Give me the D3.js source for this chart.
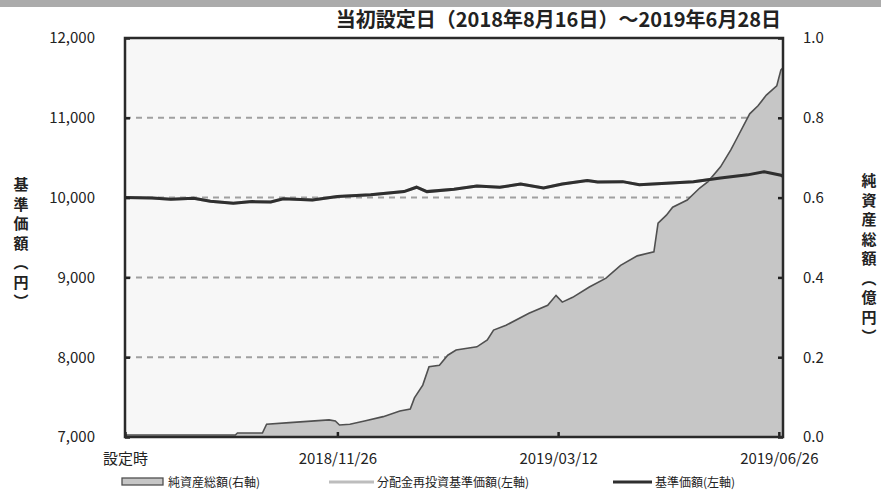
<!DOCTYPE html>
<html>
<head>
<meta charset="utf-8">
<script src="https://cdn.jsdelivr.net/npm/d3@7"></script>
<style>
body { margin: 0; background: #fff; }
text { font-family: "Noto Sans CJK JP", "DejaVu Sans", sans-serif; fill: #222; }
.grid { stroke: #a0a0a0; stroke-width: 2; stroke-dasharray: 6,5; }
</style>
</head>
<body>
<script>
// net assets (億円, right axis)
var assetDates = ["2018-08-16","2018-10-08","2018-10-09","2018-10-21","2018-10-23","2018-11-03","2018-11-22","2018-11-25","2018-11-27","2018-12-02","2018-12-09","2018-12-18","2018-12-26","2018-12-31","2019-01-02","2019-01-06","2019-01-09","2019-01-14","2019-01-18","2019-01-22","2019-02-01","2019-02-06","2019-02-09","2019-02-15","2019-02-26","2019-03-07","2019-03-11","2019-03-14","2019-03-19","2019-03-27","2019-04-04","2019-04-11","2019-04-19","2019-04-27","2019-04-29","2019-05-03","2019-05-06","2019-05-13","2019-05-19","2019-05-23","2019-05-29","2019-06-03","2019-06-06","2019-06-12","2019-06-16","2019-06-20","2019-06-25","2019-06-27","2019-06-28"];
var assetValues = [0.005,0.005,0.01,0.01,0.032,0.036,0.043,0.04,0.03,0.032,0.04,0.051,0.065,0.07,0.098,0.13,0.176,0.18,0.205,0.218,0.226,0.243,0.268,0.28,0.31,0.33,0.355,0.338,0.35,0.376,0.398,0.43,0.454,0.464,0.536,0.556,0.576,0.594,0.624,0.64,0.677,0.72,0.75,0.81,0.83,0.857,0.88,0.92,0.925];

// NAV (円, left axis); reinvested NAV is identical (no distributions)
var navDates = ["2018-08-16","2018-08-29","2018-09-07","2018-09-18","2018-09-26","2018-10-07","2018-10-16","2018-10-25","2018-10-31","2018-11-14","2018-11-26","2018-12-12","2018-12-28","2019-01-03","2019-01-08","2019-01-21","2019-02-01","2019-02-12","2019-02-22","2019-03-05","2019-03-14","2019-03-26","2019-03-31","2019-04-12","2019-04-20","2019-05-03","2019-05-16","2019-05-29","2019-06-11","2019-06-19","2019-06-27","2019-06-28"];
var navValues = [10000,9995,9980,9992,9955,9930,9950,9945,9985,9970,10015,10035,10075,10130,10075,10105,10145,10130,10170,10120,10170,10215,10195,10200,10160,10180,10200,10245,10285,10325,10280,10265];
var reinvValues = navValues.slice();

var leftTicks = [7000, 8000, 9000, 10000, 11000, 12000];
var rightTicks = [0, 0.2, 0.4, 0.6, 0.8, 1.0];
var xTickDates = ["2018-08-16","2018-11-26","2019-03-12","2019-06-26"];
var xTickLabels = ["設定時","2018/11/26","2019/03/12","2019/06/26"];

var titleText = "当初設定日（2018年8月16日）～2019年6月28日";
var leftTitle = ["基","準","価","額","︵","円","︶"];
var rightTitle = ["純","資","産","総","額","︵","億","円","︶"];

var W = 881, H = 495;
var margin = {top: 38, right: 98, bottom: 58, left: 125};
var width = W - margin.left - margin.right,
    height = H - margin.top - margin.bottom;

var parse = d3.timeParse("%Y-%m-%d");

var x = d3.scaleTime()
    .domain([parse("2018-08-16"), parse("2019-06-28")])
    .range([0, width]);
var yL = d3.scaleLinear().domain([7000, 12000]).range([height, 0]);
var yR = d3.scaleLinear().domain([0, 1.0]).range([height, 0]);

var svg = d3.select("body").append("svg")
    .attr("width", W)
    .attr("height", H);

// top band
svg.append("rect").attr("x", 0).attr("y", 0).attr("width", W).attr("height", 7).attr("fill", "#ababab");

svg.append("text")
    .attr("x", 781).attr("y", 27)
    .attr("text-anchor", "end")
    .style("font-size", "20px")
    .style("font-weight", "bold")
    .attr("fill", "#222")
    .text(titleText);

var g = svg.append("g")
    .attr("transform", "translate(" + margin.left + "," + margin.top + ")");

g.append("rect")
    .attr("width", width).attr("height", height)
    .attr("fill", "#f7f7f7");

// dashed grid
g.selectAll(".grid")
    .data(leftTicks.filter(function(d) { return d > 7000 && d < 12000; }))
  .enter().append("line")
    .attr("class", "grid")
    .attr("x1", 0).attr("x2", width)
    .attr("y1", function(d) { return yL(d); })
    .attr("y2", function(d) { return yL(d); });

// net assets area
var assetData = assetDates.map(function(d, i) { return {date: parse(d), v: assetValues[i]}; });
var area = d3.area()
    .x(function(d) { return x(d.date); })
    .y0(height)
    .y1(function(d) { return yR(d.v); });
g.append("path")
    .datum(assetData)
    .attr("d", area)
    .attr("fill", "#c6c6c6");
g.append("path")
    .datum(assetData)
    .attr("d", d3.line().x(function(d) { return x(d.date); }).y(function(d) { return yR(d.v); }))
    .attr("fill", "none")
    .attr("stroke", "#505050")
    .attr("stroke-width", 1.6);

// NAV lines
var navLine = d3.line()
    .x(function(d) { return x(d.date); })
    .y(function(d) { return yL(d.v); });
g.append("path")
    .datum(navDates.map(function(d, i) { return {date: parse(d), v: reinvValues[i]}; }))
    .attr("d", navLine)
    .attr("fill", "none")
    .attr("stroke", "#bdbdbd")
    .attr("stroke-width", 3);
g.append("path")
    .datum(navDates.map(function(d, i) { return {date: parse(d), v: navValues[i]}; }))
    .attr("d", navLine)
    .attr("fill", "none")
    .attr("stroke", "#2f2f2f")
    .attr("stroke-width", 3);

// axes
var axL = g.append("g").call(d3.axisLeft(yL).tickValues(leftTicks).tickSize(-5).tickPadding(30).tickFormat(d3.format(",")));
var axR = g.append("g").attr("transform", "translate(" + width + ",0)")
    .call(d3.axisRight(yR).tickValues(rightTicks).tickSize(-5).tickPadding(20).tickFormat(d3.format(".1f")));
var axB = g.append("g").attr("transform", "translate(0," + height + ")")
    .call(d3.axisBottom(x).tickValues(xTickDates.map(parse)).tickSize(-5).tickPadding(16)
      .tickFormat(function(d, i) { return xTickLabels[i]; }));
[axL, axR, axB].forEach(function(a) {
  a.select(".domain").remove();
  a.selectAll(".tick line").attr("stroke", "#222").attr("stroke-width", 2.5);
  a.selectAll(".tick text").style("font-size", "15px").attr("fill", "#222")
    .style("font-family", "'Noto Sans CJK JP', sans-serif");
});
axL.selectAll(".tick text").attr("x", -30);
axR.selectAll(".tick text").attr("x", 20);

// frame
g.append("rect")
    .attr("width", width).attr("height", height)
    .attr("fill", "none").attr("stroke", "#2a2a2a").attr("stroke-width", 2.5);

// axis titles
svg.selectAll(".ltitle").data(leftTitle).enter().append("text")
    .attr("x", 21).attr("y", function(d, i) { return 190 + i * 19.5; })
    .attr("text-anchor", "middle")
    .style("font-size", "15px").style("font-weight", "bold")
    .text(function(d) { return d; });
svg.selectAll(".rtitle").data(rightTitle).enter().append("text")
    .attr("x", 869).attr("y", function(d, i) { return 186 + i * 19.5; })
    .attr("text-anchor", "middle")
    .style("font-size", "15px").style("font-weight", "bold")
    .text(function(d) { return d; });

// legend
var ly = 482;
svg.append("rect").attr("x", 122).attr("y", ly - 4).attr("width", 41).attr("height", 7)
    .attr("fill", "#c6c6c6").attr("stroke", "#505050").attr("stroke-width", 1.3);
svg.append("text").attr("x", 168).attr("y", ly + 4.5).style("font-size", "12px").text("純資産総額(右軸)");
svg.append("line").attr("x1", 329).attr("x2", 374).attr("y1", ly).attr("y2", ly)
    .attr("stroke", "#bdbdbd").attr("stroke-width", 3);
svg.append("text").attr("x", 377).attr("y", ly + 4.5).style("font-size", "12px").text("分配金再投資基準価額(左軸)");
svg.append("line").attr("x1", 613).attr("x2", 652).attr("y1", ly).attr("y2", ly)
    .attr("stroke", "#2f2f2f").attr("stroke-width", 3);
svg.append("text").attr("x", 655).attr("y", ly + 4.5).style("font-size", "12px").text("基準価額(左軸)");
</script>
</body>
</html>
